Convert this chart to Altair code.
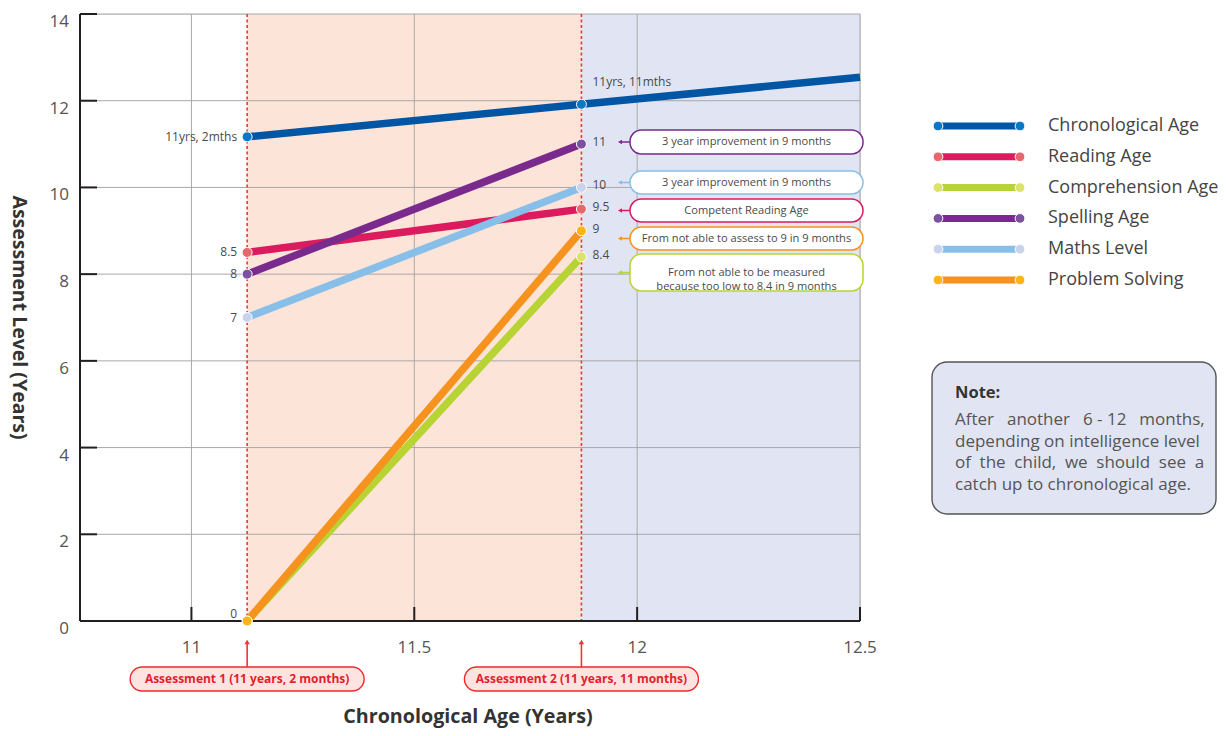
import altair as alt
import pandas as pd

# ------------------------------------------------------------------ data
series = ["Chronological Age", "Reading Age", "Comprehension Age",
          "Spelling Age", "Maths Level", "Problem Solving"]
line_colors = ["#0056A4", "#DB1B5E", "#B7D334", "#7A2A8C", "#88BFE8", "#F6921E"]
dot_colors = ["#0B77C5", "#E6676C", "#DCE26B", "#7C519F", "#CAD3EC", "#FDB515"]

assessment_x = [11.125, 11.875]
assessment_labels = ["Assessment 1 (11 years, 2 months)",
                     "Assessment 2 (11 years, 11 months)"]

chrono_x = [11.125, 11.875, 12.5]
chrono_y = [11.167, 11.917, 12.54]
reading_y = [8.5, 9.5]
comprehension_y = [0.0, 8.4]
spelling_y = [8.0, 11.0]
maths_y = [7.0, 10.0]
problem_y = [0.0, 9.0]

start_labels = ["11yrs, 2mths", "8.5", "0", "8", "7", "0"]
end_labels = ["11yrs, 11mths", "9.5", "8.4", "11", "10", "9"]

x_ticks = [11, 11.5, 12, 12.5]
y_ticks = [0, 2, 4, 6, 8, 10, 12, 14]
x_domain = [10.75, 12.5]
y_domain = [0, 14]

band_colors = ["#FDE4D9", "#E1E5F3"]

callout_series = ["Spelling Age", "Maths Level", "Reading Age",
                  "Problem Solving", "Comprehension Age"]
callout_texts = ["3 year improvement in 9 months",
                 "3 year improvement in 9 months",
                 "Competent Reading Age",
                 "From not able to assess to 9 in 9 months",
                 "From not able to be measured\nbecause too low to 8.4 in 9 months"]

note_title = "Note:"
# wide spaces emulate the justified paragraph of the original
note_lines = ["After\u2002 another\u2002 6 - 12\u2002 months,",
              "depending on intelligence level",
              "of\u2005 the\u2005 child,\u2005 we\u2005 should\u2005 see\u2005 a",
              "catch up to chronological age."]

x_title = "Chronological Age (Years)"
y_title = "Assessment Level (Years)"

# ------------------------------------------------------------------ layout
W, H = 780, 607
FONT = "Open Sans"
TXT = "#4A4A4A"

xs = alt.Scale(domain=x_domain, nice=False, zero=False)
ys = alt.Scale(domain=y_domain, nice=False, zero=False)
line_scale = alt.Scale(domain=series, range=line_colors)
dot_scale = alt.Scale(domain=series, range=dot_colors)


def X(f, **kw):
    return alt.X(f, type="quantitative", scale=xs, axis=None, **kw)


def Y(f, **kw):
    return alt.Y(f, type="quantitative", scale=ys, axis=None, **kw)


dummy = pd.DataFrame({"d": [0]})


def ptext(px, py, text, **kw):
    return alt.Chart(dummy).mark_text(font=FONT, **kw).encode(
        x=alt.value(px), y=alt.value(py), text=alt.value(text))


def prect(x0, x1, y0, y1, **kw):
    return alt.Chart(dummy).mark_rect(**kw).encode(
        x=alt.value(x0), x2=alt.value(x1), y=alt.value(y0), y2=alt.value(y1))


def prule(x0, x1, y0, y1, **kw):
    return alt.Chart(dummy).mark_rule(**kw).encode(
        x=alt.value(x0), x2=alt.value(x1), y=alt.value(y0), y2=alt.value(y1))


def ppoint(px, py, **kw):
    return alt.Chart(dummy).mark_point(**kw).encode(x=alt.value(px), y=alt.value(py))


# ------------------------------------------------------------------ tables
all_y = [chrono_y[:2], reading_y, comprehension_y, spelling_y, maths_y, problem_y]
pts = []
for i, (s, yv) in enumerate(zip(series, all_y)):
    pts.append({"series": s, "x": assessment_x[0], "y": yv[0], "label": start_labels[i]})
    pts.append({"series": s, "x": assessment_x[1], "y": yv[1], "label": end_labels[i]})
points_df = pd.DataFrame(pts)
lines_df = pd.concat([points_df, pd.DataFrame(
    [{"series": series[0], "x": chrono_x[2], "y": chrono_y[2], "label": ""}])],
    ignore_index=True)

start_df = points_df[points_df["x"] == assessment_x[0]].drop_duplicates(["y", "label"])
end_df = points_df[points_df["x"] == assessment_x[1]]

bands_df = pd.DataFrame({"x0": [assessment_x[0], assessment_x[1]],
                         "x1": [assessment_x[1], x_domain[1]],
                         "c": band_colors})
assess_df = pd.DataFrame({"x": assessment_x, "label": assessment_labels})
xt_df = pd.DataFrame({"v": x_ticks})
yt_df = pd.DataFrame({"v": y_ticks})

layers = []

# background bands
layers.append(alt.Chart(bands_df).mark_rect().encode(
    x=X("x0"), x2="x1", y=alt.value(0), y2=alt.value(H),
    fill=alt.Fill("c:N", scale=None)))

# grid
layers.append(alt.Chart(yt_df).transform_filter("datum.v > 0").mark_rule(
    color="#A8A8A8", strokeWidth=1).encode(y=Y("v")))
layers.append(alt.Chart(xt_df).mark_rule(color="#A8A8A8", strokeWidth=1).encode(x=X("v")))

# assessment dotted lines
layers.append(alt.Chart(assess_df).mark_rule(
    color="#EF3535", strokeWidth=1.6, strokeDash=[3, 2.5]).encode(
    x=X("x"), y=alt.value(0), y2=alt.value(H)))

# axis domains + inward ticks
layers.append(prule(0, W, H, H, color="#231F20", strokeWidth=2))
layers.append(prule(0, 0, 0, H, color="#231F20", strokeWidth=2))
layers.append(alt.Chart(yt_df).mark_rule(color="#231F20", strokeWidth=2).encode(
    y=Y("v"), x=alt.value(0), x2=alt.value(17)))
layers.append(alt.Chart(xt_df).mark_rule(color="#231F20", strokeWidth=2).encode(
    x=X("v"), y=alt.value(H), y2=alt.value(H - 14)))

# tick labels (drawn through the scales)
layers.append(alt.Chart(xt_df).mark_text(
    font=FONT, fontSize=17, color="#555555", baseline="alphabetic").encode(
    x=X("v"), y=alt.value(H + 32), text=alt.Text("v:Q", format="~g")))
layers.append(alt.Chart(yt_df).mark_text(
    font=FONT, fontSize=17, color="#555555", baseline="alphabetic",
    align="right", dy=13).encode(
    y=Y("v"), x=alt.value(-11), text=alt.Text("v:Q", format="d")))

# data lines and points
layers.append(alt.Chart(lines_df).mark_line(strokeWidth=7.5, strokeCap="butt").encode(
    x=X("x"), y=Y("y"),
    color=alt.Color("series:N", scale=line_scale, legend=None)))
layers.append(alt.Chart(points_df).mark_circle(
    size=100, stroke="white", strokeWidth=1, opacity=1).encode(
    x=X("x"), y=Y("y"),
    fill=alt.Fill("series:N", scale=dot_scale, legend=None)))

# point labels
LBL = 12
layers.append(alt.Chart(start_df).transform_filter("datum.y > 0").mark_text(
    font=FONT, fontSize=LBL, color=TXT, align="right", dx=-10).encode(
    x=X("x"), y=Y("y"), text="label:N"))
layers.append(alt.Chart(start_df).transform_filter("datum.y == 0").mark_text(
    font=FONT, fontSize=LBL, color=TXT, align="right", dx=-10, dy=-7).encode(
    x=X("x"), y=Y("y"), text="label:N"))
layers.append(alt.Chart(end_df).transform_filter(
    alt.datum.series != series[0]).mark_text(
    font=FONT, fontSize=LBL, color=TXT, align="left", dx=11, dy=-2).encode(
    x=X("x"), y=Y("y"), text="label:N"))
layers.append(alt.Chart(end_df).transform_filter(
    alt.datum.series == series[0]).mark_text(
    font=FONT, fontSize=LBL, color=TXT, align="left", dx=11, dy=-22).encode(
    x=X("x"), y=Y("y"), text="label:N"))

# assessment markers below the axis
layers.append(alt.Chart(assess_df).mark_rule(color="#EF3535", strokeWidth=1.6).encode(
    x=X("x"), y=alt.value(H + 22), y2=alt.value(H + 46)))
layers.append(alt.Chart(assess_df).mark_point(
    shape="triangle-up", filled=True, color="#EF3535", size=30, opacity=1).encode(
    x=X("x"), y=alt.value(H + 21)))
layers.append(alt.Chart(assess_df).transform_calculate(
    a="datum.x - 0.2625", b="datum.x + 0.2625").mark_rect(
    cornerRadius=12, fill="#FDE4E1", stroke="#EE2A2A", strokeWidth=1.4).encode(
    x=X("a"), x2="b", y=alt.value(H + 46), y2=alt.value(H + 70)))
layers.append(alt.Chart(assess_df).mark_text(
    font=FONT, fontSize=12, fontWeight="bold", color="#E31E2D").encode(
    x=X("x"), y=alt.value(H + 58), text="label:N"))

# callouts
callout_boxes = [(116, 140), (157, 180), (185, 208), (213, 236), (240, 277)]
for s, t, (t0, t1) in zip(callout_series, callout_texts, callout_boxes):
    c = line_colors[series.index(s)]
    cy = (t0 + t1) / 2
    layers.append(prect(550, 783, t0, t1, cornerRadius=11.5, fill="white",
                        stroke=c, strokeWidth=1.5))
    layers.append(prule(541, 550, cy, cy, color=c, strokeWidth=1.5))
    layers.append(ppoint(540, cy, shape="triangle-left", filled=True, color=c,
                         size=22, opacity=1))
    layers.append(ptext(666.5, cy, t, fontSize=11.1, color=TXT,
                        lineBreak="\n", lineHeight=14))

# legend
for i, s in enumerate(series):
    ly = 112 + i * 30.8
    layers.append(prule(858, 940, ly, ly, color=line_colors[i], strokeWidth=7))
    for lx in (858, 940):
        layers.append(alt.Chart(dummy).mark_circle(
            size=95, fill=dot_colors[i], stroke="white", strokeWidth=1, opacity=1).encode(
            x=alt.value(lx), y=alt.value(ly)))
    layers.append(ptext(968, ly, s, fontSize=18, color="#444444", align="left"))

# note box
layers.append(prect(852, 1136, 348, 500, cornerRadius=15, fill="#E1E5F3",
                    stroke="#555555", strokeWidth=1.4))
layers.append(ptext(875, 379, note_title, fontSize=16.5, fontWeight="bold",
                    color="#333333", align="left"))
for j, line in enumerate(note_lines):
    layers.append(ptext(875, 406 + j * 21.5, line, fontSize=17,
                        color="#555555", align="left"))

# axis titles
layers.append(ptext(W / 2 - 2, 709, x_title, fontSize=19.7, fontWeight="bold",
                    color="#333333", baseline="alphabetic"))
layers.append(ptext(-61.5, H / 2, y_title, fontSize=19.5, fontWeight="bold",
                    color="#333333", angle=90))

chart = alt.layer(*layers).properties(
    width=W, height=H,
    autosize=alt.AutoSizeParams(type="none"),
    padding={"left": 72, "top": 6, "right": 358, "bottom": 107},
).configure_view(stroke=None).configure(background="white")

chart.save("out.html", embed_options={"renderer": "svg", "actions": False})
